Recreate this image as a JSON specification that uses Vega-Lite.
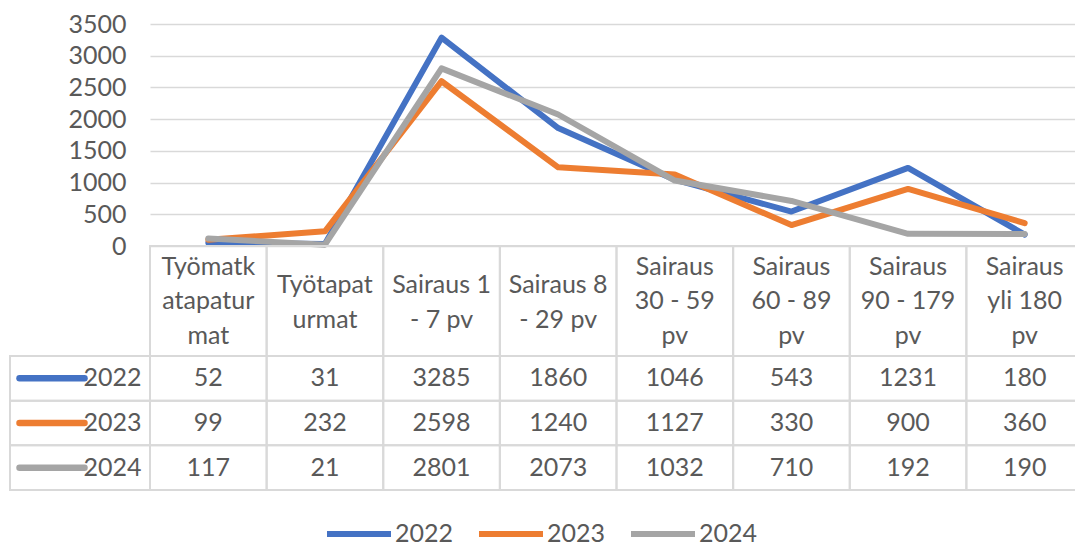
{
  "$schema": "https://vega.github.io/schema/vega-lite/v6.json",
  "padding": {"top": 12, "left": 6, "right": 0, "bottom": 0},
  "columns": 2,
  "spacing": 0,
  "bounds": "flush",
  "datasets": {
    "vals": [
      {"cat": "Työmatk\natapatur\nmat", "year": "2022", "value": 52},
      {"cat": "Työtapat\nurmat", "year": "2022", "value": 31},
      {"cat": "Sairaus 1\n- 7 pv", "year": "2022", "value": 3285},
      {"cat": "Sairaus 8\n- 29 pv", "year": "2022", "value": 1860},
      {"cat": "Sairaus\n30 - 59\npv", "year": "2022", "value": 1046},
      {"cat": "Sairaus\n60 - 89\npv", "year": "2022", "value": 543},
      {"cat": "Sairaus\n90 - 179\npv", "year": "2022", "value": 1231},
      {"cat": "Sairaus\nyli 180\npv", "year": "2022", "value": 180},
      {"cat": "Työmatk\natapatur\nmat", "year": "2023", "value": 99},
      {"cat": "Työtapat\nurmat", "year": "2023", "value": 232},
      {"cat": "Sairaus 1\n- 7 pv", "year": "2023", "value": 2598},
      {"cat": "Sairaus 8\n- 29 pv", "year": "2023", "value": 1240},
      {"cat": "Sairaus\n30 - 59\npv", "year": "2023", "value": 1127},
      {"cat": "Sairaus\n60 - 89\npv", "year": "2023", "value": 330},
      {"cat": "Sairaus\n90 - 179\npv", "year": "2023", "value": 900},
      {"cat": "Sairaus\nyli 180\npv", "year": "2023", "value": 360},
      {"cat": "Työmatk\natapatur\nmat", "year": "2024", "value": 117},
      {"cat": "Työtapat\nurmat", "year": "2024", "value": 21},
      {"cat": "Sairaus 1\n- 7 pv", "year": "2024", "value": 2801},
      {"cat": "Sairaus 8\n- 29 pv", "year": "2024", "value": 2073},
      {"cat": "Sairaus\n30 - 59\npv", "year": "2024", "value": 1032},
      {"cat": "Sairaus\n60 - 89\npv", "year": "2024", "value": 710},
      {"cat": "Sairaus\n90 - 179\npv", "year": "2024", "value": 192},
      {"cat": "Sairaus\nyli 180\npv", "year": "2024", "value": 190}
    ],
    "cats": [
      {"cat": "Työmatk\natapatur\nmat"},
      {"cat": "Työtapat\nurmat"},
      {"cat": "Sairaus 1\n- 7 pv"},
      {"cat": "Sairaus 8\n- 29 pv"},
      {"cat": "Sairaus\n30 - 59\npv"},
      {"cat": "Sairaus\n60 - 89\npv"},
      {"cat": "Sairaus\n90 - 179\npv"},
      {"cat": "Sairaus\nyli 180\npv"}
    ],
    "years": [{"year": "2022"}, {"year": "2023"}, {"year": "2024"}]
  },
  "concat": [
    {
      "width": 140, "height": 222,
      "data": {"name": "years"},
      "mark": {"type": "text", "text": ""},
      "encoding": {}
    },
    {
      "width": 933, "height": 222,
      "data": {"name": "vals"},
      "mark": {"type": "line", "strokeWidth": 6, "strokeJoin": "round", "strokeCap": "round"},
      "encoding": {
        "x": {"field": "cat", "type": "nominal", "axis": null,
          "scale": {"type": "point", "padding": 0.5, "domain": ["Työmatk\natapatur\nmat", "Työtapat\nurmat", "Sairaus 1\n- 7 pv", "Sairaus 8\n- 29 pv", "Sairaus\n30 - 59\npv", "Sairaus\n60 - 89\npv", "Sairaus\n90 - 179\npv", "Sairaus\nyli 180\npv"]}},
        "y": {"field": "value", "type": "quantitative",
          "scale": {"domain": [0, 3500], "nice": false},
          "axis": {"values": [0, 500, 1000, 1500, 2000, 2500, 3000, 3500], "format": "d", "grid": true, "gridColor": "#d9d9d9", "gridWidth": 1.5, "domain": false, "ticks": false, "labelPadding": 24, "labelFontSize": 25, "labelColor": "#595959", "labelFont": "Lato", "title": null}},
        "color": {"field": "year", "type": "nominal",
          "scale": {"domain": ["2022", "2023", "2024"], "range": ["#4472C4", "#ED7D31", "#A5A5A5"]},
          "legend": {"orient": "none", "legendX": 314, "legendY": 475, "direction": "horizontal", "title": null, "symbolType": "stroke", "symbolSize": 4096, "symbolStrokeWidth": 6, "labelFontSize": 25, "labelColor": "#595959", "labelFont": "Lato", "labelOffset": 1, "columnPadding": 13}}
      }
    },
    {
      "width": 140, "height": 110,
      "data": {"name": "years"},
      "mark": {"type": "text", "text": ""},
      "encoding": {}
    },
    {
      "width": 933, "height": 110,
      "data": {"name": "cats"},
      "encoding": {
        "x": {"field": "cat", "type": "nominal", "axis": null,
          "scale": {"type": "band", "paddingInner": 0, "paddingOuter": 0, "domain": ["Työmatk\natapatur\nmat", "Työtapat\nurmat", "Sairaus 1\n- 7 pv", "Sairaus 8\n- 29 pv", "Sairaus\n30 - 59\npv", "Sairaus\n60 - 89\npv", "Sairaus\n90 - 179\npv", "Sairaus\nyli 180\npv"]}}
      },
      "layer": [
        {"mark": {"type": "rect", "filled": false, "stroke": "#d9d9d9", "strokeWidth": 2}},
        {"transform": [{"filter": {"field": "cat", "oneOf": ["Työmatk\natapatur\nmat", "Sairaus\n30 - 59\npv", "Sairaus\n60 - 89\npv", "Sairaus\n90 - 179\npv", "Sairaus\nyli 180\npv"]}}],
         "mark": {"type": "text", "lineBreak": "\n", "lineHeight": 34.5, "fontSize": 25, "color": "#595959", "baseline": "middle", "font": "Lato", "dy": -34.5},
         "encoding": {"text": {"field": "cat", "type": "nominal"}}},
        {"transform": [{"filter": {"field": "cat", "oneOf": ["Työtapat\nurmat", "Sairaus 1\n- 7 pv", "Sairaus 8\n- 29 pv"]}}],
         "mark": {"type": "text", "lineBreak": "\n", "lineHeight": 34.5, "fontSize": 25, "color": "#595959", "baseline": "middle", "font": "Lato", "dy": -16},
         "encoding": {"text": {"field": "cat", "type": "nominal"}}}
      ]
    },
    {
      "width": 140, "height": 134,
      "data": {"name": "years"},
      "encoding": {
        "y": {"field": "year", "type": "nominal", "axis": null,
          "scale": {"type": "band", "paddingInner": 0, "paddingOuter": 0, "domain": ["2022", "2023", "2024"]}}
      },
      "layer": [
        {"mark": {"type": "rect", "filled": false, "stroke": "#d9d9d9", "strokeWidth": 2}},
        {"mark": {"type": "point", "shape": "stroke", "size": 4225, "strokeWidth": 6.5, "strokeCap": "round", "filled": false, "opacity": 1},
         "encoding": {
           "x": {"datum": 0.3, "type": "quantitative", "scale": {"domain": [0, 1]}, "axis": null},
           "stroke": {"field": "year", "type": "nominal", "scale": {"domain": ["2022", "2023", "2024"], "range": ["#4472C4", "#ED7D31", "#A5A5A5"]}, "legend": null}
         }},
        {"mark": {"type": "text", "align": "right", "fontSize": 25, "color": "#595959", "font": "Lato"},
         "encoding": {
           "x": {"datum": 0.94, "type": "quantitative"},
           "text": {"field": "year", "type": "nominal"}
         }}
      ]
    },
    {
      "width": 933, "height": 134,
      "data": {"name": "vals"},
      "encoding": {
        "x": {"field": "cat", "type": "nominal", "axis": null,
          "scale": {"type": "band", "paddingInner": 0, "paddingOuter": 0, "domain": ["Työmatk\natapatur\nmat", "Työtapat\nurmat", "Sairaus 1\n- 7 pv", "Sairaus 8\n- 29 pv", "Sairaus\n30 - 59\npv", "Sairaus\n60 - 89\npv", "Sairaus\n90 - 179\npv", "Sairaus\nyli 180\npv"]}},
        "y": {"field": "year", "type": "nominal", "axis": null,
          "scale": {"type": "band", "paddingInner": 0, "paddingOuter": 0, "domain": ["2022", "2023", "2024"]}}
      },
      "layer": [
        {"mark": {"type": "rect", "filled": false, "stroke": "#d9d9d9", "strokeWidth": 2}},
        {"mark": {"type": "text", "fontSize": 25, "color": "#595959", "font": "Lato"},
         "encoding": {"text": {"field": "value", "type": "quantitative", "format": "d"}}}
      ]
    }
  ],
  "config": {"view": {"stroke": null}, "font": "Lato"}
}
